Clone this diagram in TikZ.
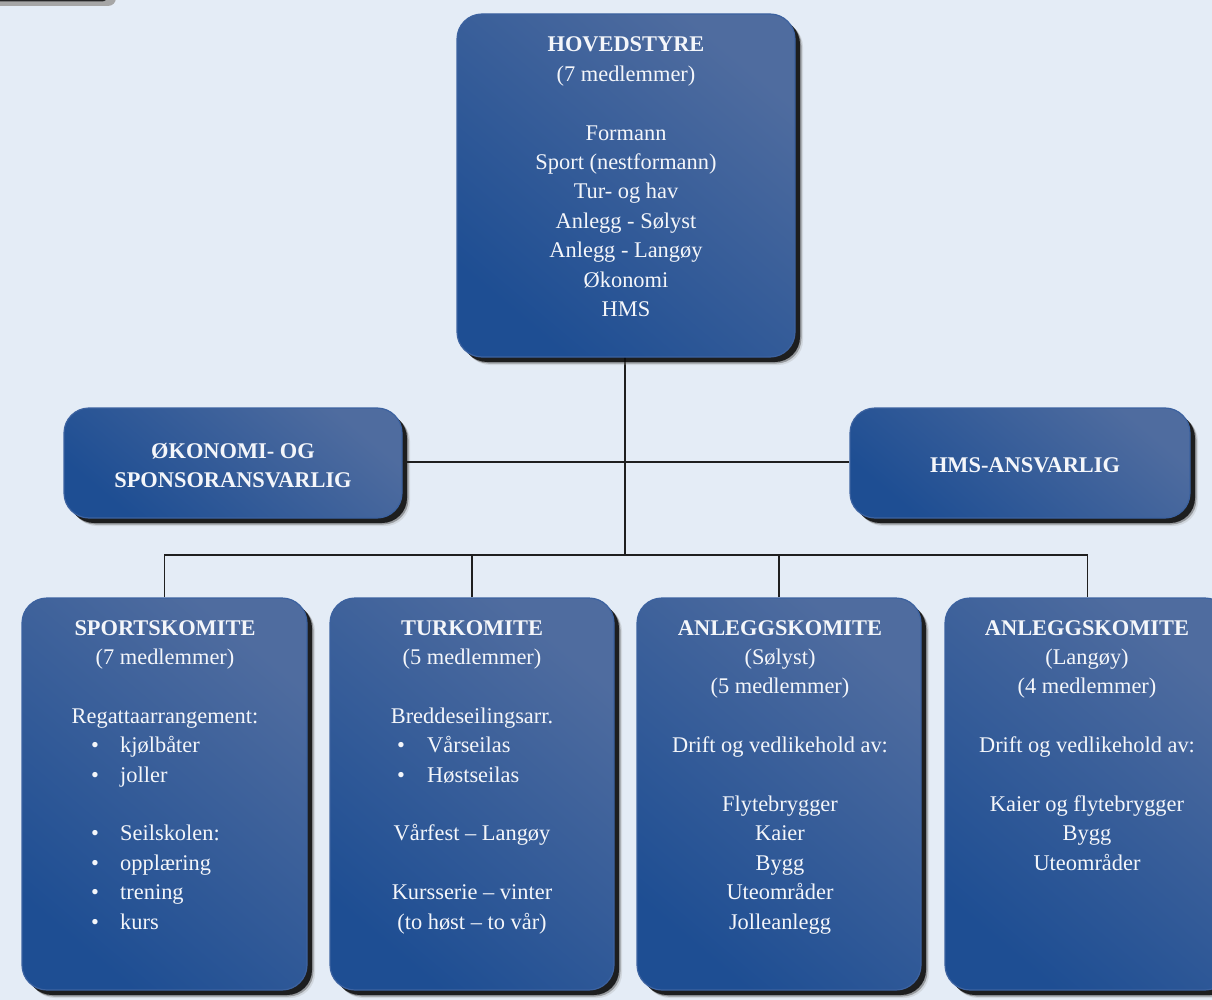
\documentclass[tikz,border=0pt]{standalone}
\usepackage{fontspec}
\setmainfont{Liberation Serif}
\usetikzlibrary{shadows}
\definecolor{bg}{HTML}{E4ECF6}
\definecolor{bdark}{HTML}{1E4E93}
\definecolor{blight}{HTML}{4F6C9F}
\definecolor{bedge}{HTML}{3C62A0}
\definecolor{txtc}{HTML}{F4F6FA}
\tikzset{
  panel/.style={rectangle, rounded corners=25pt, inner sep=0pt,
    top color=blight, bottom color=bdark, shading angle=-40,
    draw=bedge, line width=1.2pt,
    drop shadow={shadow xshift=8pt, shadow yshift=-8pt, fill=black!40, opacity=0.25},
    drop shadow={shadow xshift=6.5pt, shadow yshift=-6.5pt, fill=black!70, opacity=0.45},
    drop shadow={shadow xshift=5pt, shadow yshift=-5pt, fill=black, opacity=0.8}},
  txt/.style={text=txtc, font=\fontsize{22.4}{29.4}\selectfont, anchor=base, inner sep=0pt},
  bt/.style={txt, font=\fontsize{22.4}{29.4}\selectfont\bfseries},
  bl/.style={txt, anchor=base west},
  conn/.style={draw=black!88, line width=1.8pt}
}
\begin{document}
\begin{tikzpicture}[x=1pt, y=-1pt]
\useasboundingbox (0,0) rectangle (1212,1000);
\clip (0,0) rectangle (1212,1000);
\fill[bg] (0,0) rectangle (1212,1000);
% top-left fragment
\fill[black!35, rounded corners=8pt] (-30,-40) rectangle (116,6);
\fill[black!85, rounded corners=6pt] (-30,-40) rectangle (108,1.5);

% connectors
\coordinate (j) at (625,555);
\coordinate (m) at (625,462);
\coordinate (top) at (625,300);
\draw[conn] (top) -- (j);

% boxes
\node[panel, minimum width=338pt, minimum height=343pt] (hs) at (626,185.5) {};
\node[panel, minimum width=338pt, minimum height=110pt] (ok) at (233,463) {};
\node[panel, minimum width=340pt, minimum height=110pt] (hms) at (1020,463) {};
\node[panel, minimum width=285pt, minimum height=392pt] (b1) at (164.5,794) {};
\node[panel, minimum width=284pt, minimum height=392pt] (b2) at (472,794) {};
\node[panel, minimum width=284pt, minimum height=392pt] (b3) at (779,794) {};
\node[panel, minimum width=285pt, minimum height=392pt] (b4) at (1087.5,794) {};

\draw[conn] (ok.east |- m) -- (hms.west |- m);
\draw[conn] (b1.north) |- (j) -| (b4.north);
\draw[conn] (b2.north) -- (b2.north |- j);
\draw[conn] (b3.north) -- (b3.north |- j);

% top box text
\node[bt] (h0) at (626,52) {HOVEDSTYRE};
\foreach \k/\t [count=\i] in {1/{(7 medlemmer)},3/{Formann},4/{Sport (nestformann)},5/{Tur- og hav},6/{Anlegg - Sølyst},7/{Anlegg - Langøy},8/{Økonomi},9/{HMS}}
  \node[txt] (h\i) at (626,{52+29.4*\k}) {\t};

% middle boxes
\node[bt] (ok1) at (233,458) {ØKONOMI- OG};
\node[bt] (ok2) at (233,487) {SPONSORANSVARLIG};
\node[bt] (hms1) at (1025,472) {HMS-ANSVARLIG};

% box 1
\node[bt] (s0) at (165,635) {SPORTSKOMITE};
\node[txt] (s1) at (165,{635+29.4}) {(7 medlemmer)};
\node[txt] (s2) at (165,{635+29.4*3}) {Regattaarrangement:};
\foreach \k/\t [count=\i] in {4/{kjølbåter},5/{joller},7/{Seilskolen:},8/{opplæring},9/{trening},10/{kurs}}{
  \node[txt] (sb\i) at (95,{635+29.4*\k}) {•};
  \node[bl] (st\i) at (120,{635+29.4*\k}) {\t};
}

% box 2
\node[bt] (t0) at (472,635) {TURKOMITE};
\foreach \k/\t [count=\i] in {1/{(5 medlemmer)},3/{Breddeseilingsarr.},7/{Vårfest – Langøy},9/{Kursserie – vinter},10/{(to høst – to vår)}}
  \node[txt] (t\i) at (472,{635+29.4*\k}) {\t};
\foreach \k/\t [count=\i] in {4/{Vårseilas},5/{Høstseilas}}{
  \node[txt] (tb\i) at (401,{635+29.4*\k}) {•};
  \node[bl] (tt\i) at (427,{635+29.4*\k}) {\t};
}

% box 3
\node[bt] (a0) at (780,635) {ANLEGGSKOMITE};
\foreach \k/\t [count=\i] in {1/{(Sølyst)},2/{(5 medlemmer)},4/{Drift og vedlikehold av:},6/{Flytebrygger},7/{Kaier},8/{Bygg},9/{Uteområder},10/{Jolleanlegg}}
  \node[txt] (a\i) at (780,{635+29.4*\k}) {\t};

% box 4
\node[bt] (l0) at (1087,635) {ANLEGGSKOMITE};
\foreach \k/\t [count=\i] in {1/{(Langøy)},2/{(4 medlemmer)},4/{Drift og vedlikehold av:},6/{Kaier og flytebrygger},7/{Bygg},8/{Uteområder}}
  \node[txt] (l\i) at (1087,{635+29.4*\k}) {\t};
\end{tikzpicture}
\end{document}
